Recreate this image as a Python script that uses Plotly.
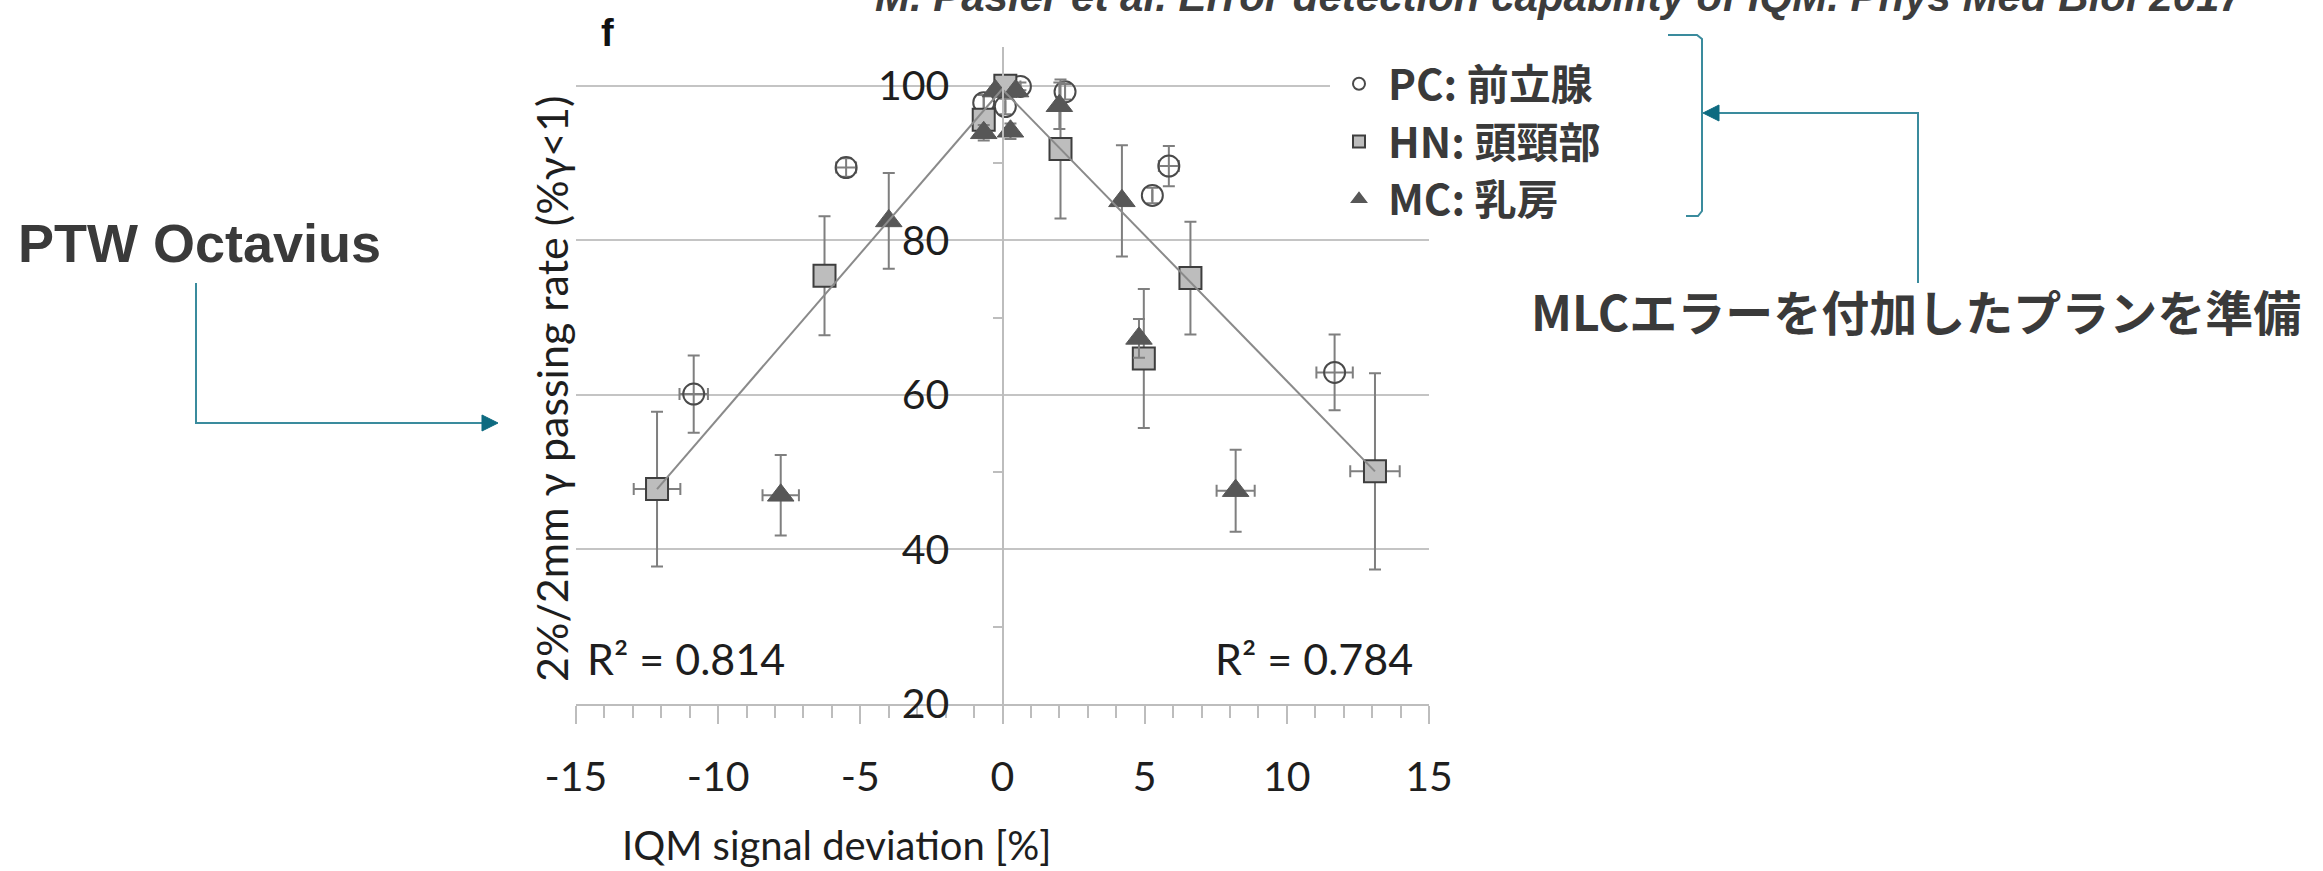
import plotly.graph_objects as go

# ---------------- data ----------------
PC_X = [-10.86, -5.5, -0.66, 0.1, 0.63, 2.2, 5.27, 5.85, 11.68]
PC_Y = [60.1, 89.4, 97.8, 97.3, 99.9, 99.2, 85.8, 89.6, 62.9]
PC_EY = [5.0, 1.2, 1.0, 1.0, 0.5, 1.0, 1.0, 2.6, 4.9]
PC_EX = [0.5, 0.35, 0, 0, 0, 0, 0, 0.35, 0.64]

HN_X = [-12.15, -6.26, -0.66, 0.1, 2.04, 4.97, 6.61, 13.1]
HN_Y = [47.8, 75.4, 95.6, 100.0, 91.8, 64.7, 75.1, 50.1]
HN_EY = [10.0, 7.7, 1.0, 0.5, 9.0, 9.0, 7.3, 12.7]
HN_EX = [0.82, 0, 0, 0, 0, 0, 0, 0.87]

MC_X = [-7.8, -4.0, -0.66, -0.25, 0.28, 0.46, 2.0, 4.2, 4.8, 8.2]
MC_Y = [47.0, 82.5, 93.9, 99.3, 94.1, 99.3, 97.4, 85.1, 67.3, 47.6]
MC_EY = [5.2, 6.2, 1.0, 0.5, 1.0, 0.5, 3.0, 7.2, 2.5, 5.3]
MC_EX = [0.64, 0, 0, 0, 0, 0, 0, 0, 0, 0.67]

FIT_LEFT_X = [-12.15, 0.0]
FIT_LEFT_Y = [47.8, 99.6]
FIT_RIGHT_X = [0.0, 13.1]
FIT_RIGHT_Y = [99.5, 50.1]

SERIES_NAMES = ["PC: 前立腺", "HN: 頭頸部", "MC: 乳房"]
R2_LEFT = "R² = 0.814"
R2_RIGHT = "R² = 0.784"

X_TICKS = [-15, -10, -5, 0, 5, 10, 15]
X_TICK_LABELS = ["-15", "-10", "-5", "0", "5", "10", "15"]
Y_TICKS = [20, 40, 60, 80, 100]
Y_TICK_LABELS = ["20", "40", "60", "80", "100"]

X_TITLE = "IQM signal deviation [%]"
Y_TITLE = "2%/2mm γ passing rate (%γ<1)"
TITLE = "M. Pasler et al. Error detection capability of IQM. Phys Med Biol 2017"
LEFT_NOTE = "PTW Octavius"
RIGHT_NOTE = "MLCエラーを付加したプランを準備"
PANEL = "f"

# ---------------- layout geometry (pixels) ----------------
W, H = 2323, 871
L, R, T, B = 576, 1429, 47, 704


def PX(p):
    return (p - L) / (R - L)


def PY(p):
    return (B - p) / (B - T)


ERR_COLOR = "#7f7f7f"
GRID = "#c4c4c4"
AX = "#bdbdbd"
TEXT = "#1e1e1e"
DARK = "#3a3a3a"
TEAL = "#3a8b9d"
TEAL_HEAD = "#0d6a80"
CHART_FONT = "Lato"
CJK_FONT = "Noto Sans CJK JP"


def err(arr):
    return dict(type="data", array=arr, visible=True, color=ERR_COLOR,
                thickness=2, width=6)


fig = go.Figure()

fig.add_trace(go.Scatter(
    x=PC_X, y=PC_Y, mode="markers", name=SERIES_NAMES[0],
    error_y=err(PC_EY), error_x=err(PC_EX),
    marker=dict(symbol="circle-open", size=21, color="#4a4a4a",
                line=dict(width=2, color="#4a4a4a")),
))
fig.add_trace(go.Scatter(
    x=HN_X, y=HN_Y, mode="markers", name=SERIES_NAMES[1],
    error_y=err(HN_EY), error_x=err(HN_EX),
    marker=dict(symbol="square", size=22, color="#bdbdbd",
                line=dict(width=2, color="#3e3e3e")),
))
fig.add_trace(go.Scatter(
    x=MC_X, y=MC_Y, mode="markers", name=SERIES_NAMES[2],
    error_y=err(MC_EY), error_x=err(MC_EX),
    marker=dict(symbol="triangle-up", size=23, color="#575757",
                line=dict(width=1, color="#575757")),
))
for fx, fy in ((FIT_LEFT_X, FIT_LEFT_Y), (FIT_RIGHT_X, FIT_RIGHT_Y)):
    fig.add_trace(go.Scatter(
        x=fx, y=fy, mode="lines", showlegend=False, hoverinfo="skip",
        line=dict(color="#8a8a8a", width=2),
    ))

annotations = [
    dict(text=Y_TITLE, x=PX(551), y=PY(389), xref="paper", yref="paper",
         showarrow=False, textangle=-90, xanchor="center", yanchor="middle",
         font=dict(family=CHART_FONT, size=43, color=TEXT)),
    dict(text=X_TITLE, x=PX(837), y=PY(845), xref="paper", yref="paper",
         showarrow=False, xanchor="center", yanchor="middle",
         font=dict(family=CHART_FONT, size=40, color=TEXT)),
    dict(text=R2_LEFT, x=PX(585), y=PY(658), xref="paper", yref="paper",
         showarrow=False, xanchor="left", yanchor="middle",
         font=dict(family=CHART_FONT, size=43, color=TEXT)),
    dict(text=R2_RIGHT, x=PX(1213), y=PY(658), xref="paper", yref="paper",
         showarrow=False, xanchor="left", yanchor="middle",
         font=dict(family=CHART_FONT, size=43, color=TEXT)),
    dict(text=PANEL, x=PX(607), y=PY(33), xref="paper", yref="paper",
         showarrow=False, xanchor="center", yanchor="middle",
         font=dict(family="Liberation Sans", size=38, color="#111111", weight="bold")),
    dict(text=TITLE, x=PX(873), y=PY(23), xref="paper", yref="paper",
         showarrow=False, xanchor="left", yanchor="bottom",
         font=dict(family="Liberation Sans", size=42, color="#3d3d3d",
                   weight="bold", style="italic")),
    dict(text=LEFT_NOTE, x=PX(16), y=PY(243), xref="paper", yref="paper",
         showarrow=False, xanchor="left", yanchor="middle",
         font=dict(family="Liberation Sans", size=54, color=DARK, weight="bold")),
    dict(text=RIGHT_NOTE, x=PX(1916), y=PY(310), xref="paper", yref="paper",
         showarrow=False, xanchor="center", yanchor="middle",
         font=dict(family=CJK_FONT, size=48, color=DARK, weight="bold")),
]


def path(points):
    s = ""
    for i, (px, py) in enumerate(points):
        s += ("M" if i == 0 else "L") + f"{PX(px):.5f},{PY(py):.5f} "
    return s.strip()


shapes = [
    # left elbow connector
    dict(type="path", xref="paper", yref="paper",
         path=path([(196, 283), (196, 423), (486, 423)]),
         line=dict(color=TEAL, width=2)),
    dict(type="path", xref="paper", yref="paper",
         path=path([(498, 423), (482, 415), (482, 431)]) + " Z",
         line=dict(color=TEAL_HEAD, width=1), fillcolor=TEAL_HEAD),
    # bracket around legend
    dict(type="path", xref="paper", yref="paper",
         path=path([(1668, 35), (1697, 35), (1702, 39), (1702, 211),
                    (1698, 216), (1686, 216)]),
         line=dict(color=TEAL, width=2)),
    # right elbow connector
    dict(type="path", xref="paper", yref="paper",
         path=path([(1918, 283), (1918, 113), (1716, 113)]),
         line=dict(color=TEAL, width=2)),
    dict(type="path", xref="paper", yref="paper",
         path=path([(1703, 113), (1719, 105), (1719, 121)]) + " Z",
         line=dict(color=TEAL_HEAD, width=1), fillcolor=TEAL_HEAD),
]

fig.update_layout(
    width=W, height=H, autosize=False,
    margin=dict(l=L, r=W - R, t=T, b=H - B, pad=0),
    paper_bgcolor="white", plot_bgcolor="white",
    showlegend=True,
    legend=dict(x=PX(1330), y=PY(50), xanchor="left", yanchor="top",
                bgcolor="white", borderwidth=0, itemwidth=48,
                font=dict(family=CJK_FONT, size=42, color=DARK, weight="bold"),
                itemsizing="constant", tracegroupgap=0),
    annotations=annotations,
    shapes=shapes,
    xaxis=dict(
        range=[-15, 15], tickmode="array", tickvals=X_TICKS, ticktext=X_TICK_LABELS,
        showgrid=False, zeroline=False, showline=True, linecolor=AX, linewidth=2,
        ticks="outside", ticklen=18, tickwidth=2, tickcolor=AX,
        ticklabelstandoff=18,
        tickfont=dict(family=CHART_FONT, size=41, color=TEXT),
        minor=dict(ticks="outside", dtick=1, tick0=0, ticklen=12, tickwidth=2,
                   tickcolor=AX, showgrid=False),
    ),
    yaxis=dict(
        range=[20, 105], tickmode="array", tickvals=Y_TICKS, ticktext=Y_TICK_LABELS,
        anchor="free", position=0.5, side="left",
        showgrid=True, gridcolor=GRID, gridwidth=2, zeroline=False,
        showline=True, linecolor=AX, linewidth=2,
        ticks="", ticklabelstandoff=44,
        tickfont=dict(family=CHART_FONT, size=41, color=TEXT),
        minor=dict(ticks="outside", tickvals=[30, 50, 70, 90], ticklen=9,
                   tickwidth=2, tickcolor=AX, showgrid=False),
    ),
)

fig.write_html("out.html")
